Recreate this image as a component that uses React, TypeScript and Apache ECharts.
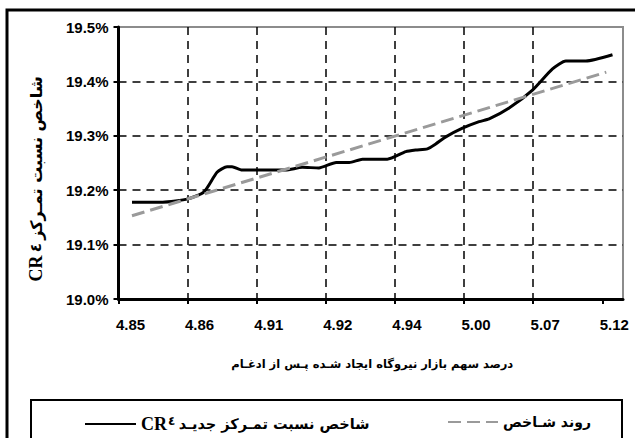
import React, { useEffect, useRef } from 'react';
import * as echarts from 'echarts';

// Category tick labels (x axis, market share %)
const xLabels = ['4.85', '4.86', '4.91', '4.92', '4.94', '5.00', '5.07', '5.12'];
const xTickValues = [0, 1, 2, 3, 4, 5, 6, 7];

// CR4 index line: positions along category axis (index units) and values (%)
const crX = [0.195, 0.64, 1.006, 1.238, 1.426, 1.571, 1.643, 1.788, 2.42, 2.66, 2.9, 3.15, 3.34, 3.53, 3.89, 4.157, 4.302, 4.47, 4.59, 4.736, 4.977, 5.218, 5.363, 5.652, 5.99, 6.28, 6.473, 6.763, 7.148];
const crY = [19.178, 19.178, 19.184, 19.197, 19.233, 19.243, 19.243, 19.237, 19.237, 19.242, 19.241, 19.251, 19.251, 19.257, 19.257, 19.271, 19.274, 19.276, 19.285, 19.298, 19.314, 19.326, 19.331, 19.351, 19.384, 19.423, 19.4375, 19.4375, 19.449];

// Trend line endpoints
const trendX = [0.195, 7.058];
const trendY = [19.153, 19.417];

const seriesNames = ['شاخص نسبت تمـرکز جدیـد CR٤', 'روند شـاخص'];
const xTitle = 'درصد سهم بازار نیروگاه ایجاد شـده پـس از ادغـام';
const yTitlePersian = 'شاخص نسبت تمـرکز';
const legendPersian = 'شاخص نسبت تمـرکز جدیـد';

const NUM_FONT = '"Liberation Sans", Arial, sans-serif';
const FA_FONT = '"DejaVu Sans", sans-serif';
const SERIF = '"Liberation Serif", "Times New Roman", serif';

export default function App() {
  const ref = useRef<HTMLDivElement>(null);
  useEffect(() => {
    if (!ref.current) return;
    const chart = echarts.init(ref.current, undefined, { renderer: 'svg' });
    const hiddenSymbol = { color: 'rgba(0,0,0,0)', borderColor: 'rgba(0,0,0,0)', borderWidth: 0, opacity: 0 };
    const option: any = {
      animation: false,
      backgroundColor: '#fff',
      grid: {
        left: 118.5, top: 27, right: 12, bottom: 139,
        show: true, borderColor: '#8c8c8c', borderWidth: 2, backgroundColor: 'transparent',
      },
      xAxis: {
        type: 'value', min: 0, max: 7.3, interval: 1,
        axisLine: { show: true, onZero: false, lineStyle: { color: '#000', width: 3 } },
        axisTick: { show: true, length: 5, lineStyle: { color: '#000', width: 2 }, customValues: xTickValues },
        axisLabel: {
          customValues: xTickValues,
          formatter: (v: number) => xLabels[Math.round(v)] ?? '',
          color: '#000', fontFamily: NUM_FONT, fontWeight: 'bold', fontSize: 15,
          margin: 18, padding: [0, 0, 0, 24],
        },
        splitLine: { show: true, showMinLine: false, showMaxLine: false, lineStyle: { color: '#000', type: [8, 6], width: 1.5 } },
        name: xTitle, nameLocation: 'middle', nameGap: 59,
        nameTextStyle: { color: '#000', fontFamily: FA_FONT, fontWeight: 'bold', fontSize: 11.5, padding: [0, 0, 0, 3] },
      },
      yAxis: {
        type: 'value', min: 19.0, max: 19.5, interval: 0.1,
        axisLine: { show: true, onZero: false, lineStyle: { color: '#000', width: 3 } },
        axisTick: { show: true, length: 5, lineStyle: { color: '#000', width: 2 } },
        axisLabel: {
          formatter: (v: number) => v.toFixed(1) + '%',
          color: '#000', fontFamily: NUM_FONT, fontWeight: 'bold', fontSize: 15, margin: 10,
        },
        splitLine: { show: true, showMinLine: false, showMaxLine: false, lineStyle: { color: '#000', type: [8, 6], width: 1.5 } },
      },
      legend: [
        {
          data: [seriesNames[0]], left: 79, top: 410, itemWidth: 51, itemHeight: 16, itemGap: 0,
          itemStyle: hiddenSymbol,
          formatter: () => '{a|CR}{b|٤} {c|' + legendPersian + '}',
          textStyle: {
            color: '#000',
            rich: {
              a: { fontFamily: SERIF, fontWeight: 'bold', fontSize: 18, color: '#000' },
              b: { fontFamily: FA_FONT, fontWeight: 'bold', fontSize: 12, color: '#000', verticalAlign: 'top', padding: [0, 0, 5, 1] },
              c: { fontFamily: FA_FONT, fontWeight: 'bold', fontSize: 14.5, color: '#000' },
            },
          },
        },
        {
          data: [seriesNames[1]], left: 442, top: 410, itemWidth: 50, itemHeight: 16, itemGap: 0,
          itemStyle: hiddenSymbol,
          textStyle: { color: '#000', fontFamily: FA_FONT, fontWeight: 'bold', fontSize: 14 },
        },
      ],
      graphic: [
        {
          type: 'rect', z: -10, silent: true,
          shape: { x: 7, y: 10, width: 700, height: 500 },
          style: { fill: 'none', stroke: '#000', lineWidth: 3 },
        },
        {
          type: 'rect', z: -10, silent: true,
          shape: { x: 31, y: 400, width: 591, height: 100 },
          style: { fill: 'none', stroke: '#000', lineWidth: 2 },
        },
        {
          type: 'text', x: 36, y: 179, rotation: Math.PI / 2,
          style: {
            text: '{a|CR} {b|٤} {c|' + yTitlePersian + '}',
            align: 'center', verticalAlign: 'middle',
            rich: {
              a: { fontFamily: SERIF, fontWeight: 'bold', fontSize: 18, fill: '#000' },
              b: { fontFamily: FA_FONT, fontWeight: 'bold', fontSize: 15, fill: '#000' },
              c: { fontFamily: FA_FONT, fontWeight: 'bold', fontSize: 16, fill: '#000' },
            },
          },
        },
      ],
      series: [
        {
          name: seriesNames[0], type: 'line', symbol: 'none', smooth: 0.2, z: 3,
          data: crX.map((x, i) => [x, crY[i]]),
          lineStyle: { color: '#000', width: 3 }, itemStyle: { color: '#000' },
        },
        {
          name: seriesNames[1], type: 'line', symbol: 'none', z: 4,
          data: trendX.map((x, i) => [x, trendY[i]]),
          lineStyle: { color: '#9a9a9a', width: 3, type: [13, 6] }, itemStyle: { color: '#9a9a9a' },
        },
      ],
    };
    chart.setOption(option);
    return () => chart.dispose();
  }, []);
  return <div ref={ref} style={{ position: 'fixed', left: 0, top: 0, width: 635, height: 438, background: '#fff' }} />;
}
